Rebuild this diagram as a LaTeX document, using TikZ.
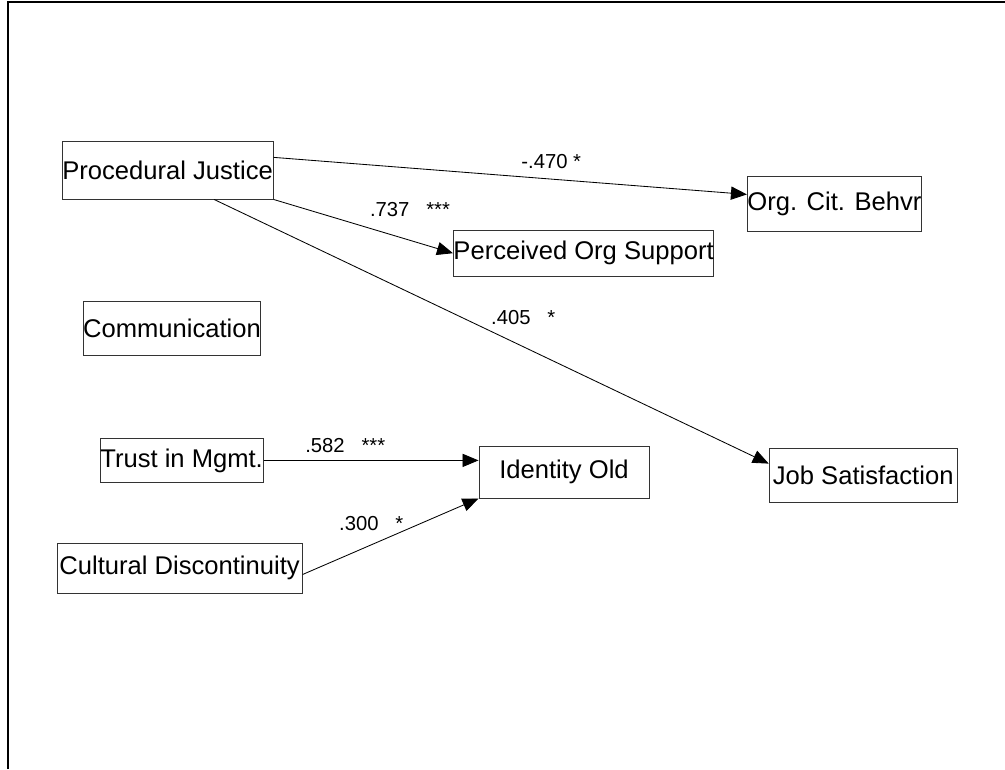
\documentclass[tikz,border=0pt]{standalone}
\usepackage{fontspec}
\setmainfont{Liberation Sans}
\usetikzlibrary{arrows.meta}

\begin{document}
\begin{tikzpicture}[
    >={Triangle[length=4mm,width=3.3mm]},
    font=\fontsize{18.2}{20}\selectfont,
    var/.style={
        draw=black!80,
        line width=0.7pt,
        inner sep=0pt,
        align=center
    },
    coef/.style={font=\fontsize{14.4}{16}\selectfont, inner sep=0pt},
    lien/.style={->, line width=0.6pt}
]
\useasboundingbox (0,0) rectangle (25.125,-19.225);

% cadre
\draw[line width=1.4pt] (0.21,-19.225) -- (0.21,-0.04) -- (25.125,-0.04);

% variables
\node[var, minimum width=5.28cm, minimum height=1.43cm] (pj)    at (4.19,-4.26)  {Procedural Justice};
\node[var, minimum width=3.93cm, minimum height=1.38cm] (ocb)   at (20.86,-5.09) {Org. Cit. Behvr};
\node[var, minimum width=5.93cm, minimum height=1.15cm] (pos)   at (14.59,-6.33) {Perceived Org Support};
\node[var, minimum width=4.40cm, minimum height=1.35cm] (com)   at (4.30,-8.20)  {Communication};
\node[var, minimum width=4.08cm, minimum height=1.08cm] (trust) at (4.54,-11.51) {Trust in Mgmt.};
\node[var, minimum width=4.25cm, minimum height=1.30cm] (id)    at (14.10,-11.80) {Identity Old};
\node[var, minimum width=4.70cm, minimum height=1.35cm] (js)    at (21.58,-11.88) {Job Satisfaction};
\node[var, minimum width=6.13cm, minimum height=1.25cm] (cd)    at (4.49,-14.20) {Cultural Discontinuity};

% chemins
\draw[lien] (pj.7) -- (ocb.174);
\draw[lien] (pj.south east) -- (pos.west);
\draw[lien] (pj.-32) -- (js.173);
\draw[lien] (trust.east) -- (trust.east -| id.west);
\draw[lien] (cd.-3) -- (id.south west);

% coefficients
\node[coef] (c470) at (13.78,-4.05)  {-.470 *};
\node[coef] (c737) at (10.25,-5.25)  {.737\ \ \ ***};
\node[coef] (c405) at (13.08,-7.93)  {.405\ \ \ *};
\node[coef] (c582) at (8.63,-11.15)  {.582\ \ \ ***};
\node[coef] (c300) at (9.28,-13.08)  {.300\ \ \ *};

\end{tikzpicture}
\end{document}
